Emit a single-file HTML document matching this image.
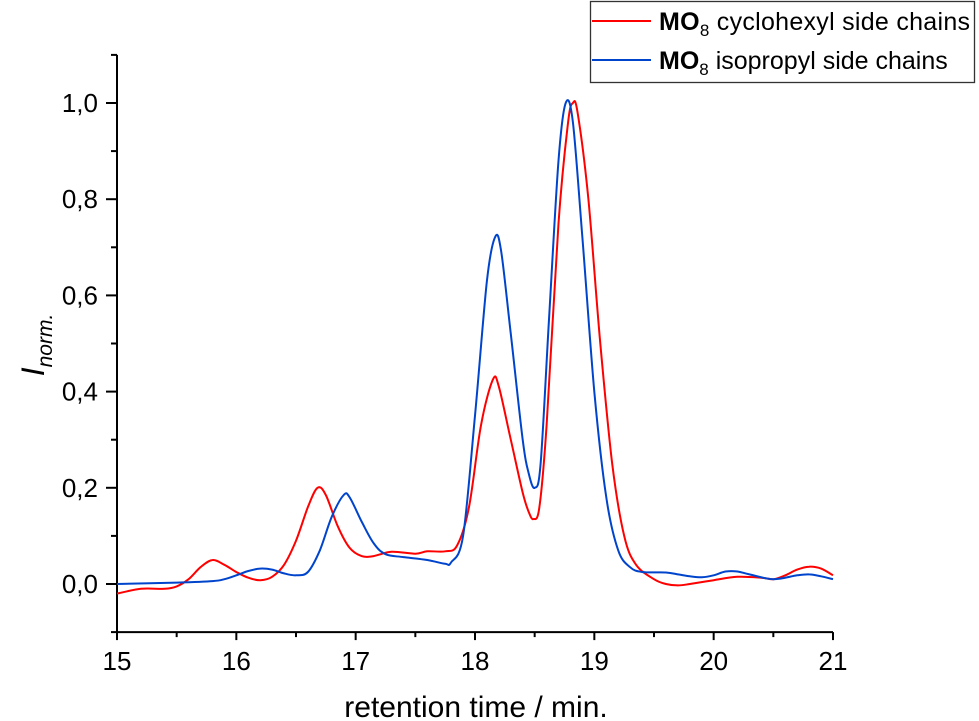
<!DOCTYPE html>
<html><head><meta charset="utf-8"><style>
body{margin:0;background:#fff;}
svg{display:block;font-family:"Liberation Sans",Arial,sans-serif;}
</style></head><body>
<svg id="chart" width="979" height="721" viewBox="0 0 979 721" xmlns="http://www.w3.org/2000/svg">
<g id="axes"></g>
<g id="series"></g>
<g>
<rect x="590.5" y="1.5" width="384" height="81" fill="#fff" stroke="#333" stroke-width="1.3"/>
<line x1="592" y1="21" x2="651" y2="21" stroke="#ff0000" stroke-width="2"/>
<text x="659" y="30" font-size="25" textLength="311"><tspan font-weight="bold">MO</tspan><tspan font-size="17" dy="6">8</tspan><tspan dy="-6"> cyclohexyl side chains</tspan></text>
<line x1="592" y1="60" x2="651" y2="60" stroke="#0044cc" stroke-width="2"/>
<text x="659" y="69" font-size="25"><tspan font-weight="bold">MO</tspan><tspan font-size="17" dy="6">8</tspan><tspan dy="-6"> isopropyl side chains</tspan></text>
</g>
<text x="476" y="717" font-size="30" text-anchor="middle">retention time / min.</text>
<text transform="translate(44,345) rotate(-90)" font-size="32" text-anchor="middle" font-style="italic">I<tspan font-size="21" dy="8">norm.</tspan></text>
</svg>
<script>
const xTicks=[15,16,17,18,19,20,21];
const yTicks=[0,0.2,0.4,0.6,0.8,1.0];
const yTickLabels=["0,0","0,2","0,4","0,6","0,8","1,0"];
const redX=[15.0,15.2,15.4,15.5,15.6,15.7,15.8,15.9,16.0,16.1,16.2,16.3,16.4,16.5,16.6,16.68,16.75,16.85,16.95,17.05,17.15,17.3,17.5,17.6,17.75,17.85,17.95,18.05,18.15,18.2,18.3,18.4,18.45,18.49,18.54,18.6,18.7,18.78,18.82,18.86,18.95,19.05,19.15,19.25,19.35,19.5,19.6,19.7,19.8,20.0,20.2,20.4,20.5,20.6,20.7,20.8,20.9,21.0];
const redY=[-0.02,-0.01,-0.01,-0.005,0.01,0.035,0.05,0.04,0.025,0.013,0.008,0.015,0.04,0.09,0.16,0.2,0.185,0.12,0.075,0.058,0.058,0.067,0.063,0.068,0.068,0.08,0.16,0.33,0.425,0.41,0.3,0.19,0.15,0.135,0.16,0.33,0.75,0.96,1.0,0.98,0.8,0.5,0.25,0.1,0.04,0.01,0.0,-0.003,0.0,0.008,0.015,0.013,0.01,0.018,0.03,0.036,0.032,0.018];
const blueX=[15.0,15.5,15.8,15.9,16.0,16.1,16.2,16.3,16.4,16.5,16.6,16.7,16.8,16.9,16.95,17.05,17.15,17.25,17.4,17.6,17.75,17.8,17.9,18.0,18.1,18.17,18.22,18.3,18.4,18.45,18.5,18.55,18.62,18.7,18.76,18.82,18.9,19.0,19.1,19.2,19.3,19.4,19.6,19.7,19.8,19.9,20.0,20.1,20.2,20.3,20.5,20.7,20.8,20.9,21.0];
const blueY=[0.0,0.003,0.006,0.01,0.018,0.027,0.032,0.03,0.022,0.018,0.025,0.07,0.14,0.185,0.18,0.13,0.085,0.062,0.056,0.05,0.042,0.045,0.1,0.35,0.63,0.722,0.69,0.52,0.3,0.23,0.2,0.25,0.55,0.88,1.0,0.96,0.72,0.4,0.18,0.07,0.035,0.025,0.024,0.02,0.016,0.014,0.018,0.026,0.026,0.02,0.01,0.018,0.02,0.016,0.01];

const NS="http://www.w3.org/2000/svg";
const X0=117,X1=833,Y0=584,Y1=103;
function sx(v){return X0+(v-15)/6*(X1-X0);}
function sy(v){return Y0-(v)*(Y0-Y1);}
function mk(tag,attrs,parent){const e=document.createElementNS(NS,tag);for(const k in attrs)e.setAttribute(k,attrs[k]);parent.appendChild(e);return e;}
const axes=document.getElementById('axes');
const yAxis=mk('line',{x1:X0,y1:sy(1.1),x2:X0,y2:sy(-0.1),stroke:'#000','stroke-width':2},axes);


const xAxis=mk('line',{x1:X0-1,y1:sy(-0.1),x2:X1,y2:sy(-0.1),stroke:'#000','stroke-width':2},axes);


for(let i=0;i<xTicks.length;i++){
  const x=sx(xTicks[i]);
  const t=mk('line',{x1:x,y1:sy(-0.1),x2:x,y2:sy(-0.1)+8,stroke:'#000','stroke-width':2},axes);
  
  
  const l=mk('text',{x:x,y:670,'font-size':26,'text-anchor':'middle'},axes);
  l.textContent=xTicks[i];
  
  
  if(i<xTicks.length-1){
    const m=mk('line',{x1:sx(xTicks[i]+0.5),y1:sy(-0.1),x2:sx(xTicks[i]+0.5),y2:sy(-0.1)+5,stroke:'#000','stroke-width':2},axes);
    
    
  }
}
for(let i=0;i<yTicks.length;i++){
  const y=sy(yTicks[i]);
  const t=mk('line',{x1:X0-11,y1:y,x2:X0,y2:y,stroke:'#000','stroke-width':2},axes);
  
  
  const l=mk('text',{x:98,y:y+9,'font-size':26,'text-anchor':'end'},axes);
  l.textContent=yTickLabels[i];
  
  
}
for(let v=-0.1;v<1.15;v+=0.2){
  const y=sy(v);
  const m=mk('line',{x1:X0-6,y1:y,x2:X0,y2:y,stroke:'#000','stroke-width':2},axes);
  
  
}
function pathFor(xs,ys){
  const p=xs.map((x,i)=>[sx(x),sy(ys[i])]);
  let d='M'+p[0][0].toFixed(1)+','+p[0][1].toFixed(1);
  for(let i=0;i<p.length-1;i++){
    const p0=p[Math.max(0,i-1)],p1=p[i],p2=p[i+1],p3=p[Math.min(p.length-1,i+2)];
    const c1=[p1[0]+(p2[0]-p0[0])/6,p1[1]+(p2[1]-p0[1])/6];
    const c2=[p2[0]-(p3[0]-p1[0])/6,p2[1]-(p3[1]-p1[1])/6];
    d+=' C'+c1[0].toFixed(1)+','+c1[1].toFixed(1)+' '+c2[0].toFixed(1)+','+c2[1].toFixed(1)+' '+p2[0].toFixed(1)+','+p2[1].toFixed(1);
  }
  return d;
}
const series=document.getElementById('series');
const red=mk('path',{d:pathFor(redX,redY),fill:'none',stroke:'#ff0000','stroke-width':2},series);


const blue=mk('path',{d:pathFor(blueX,blueY),fill:'none',stroke:'#0044cc','stroke-width':2},series);


</script>
</body></html>
